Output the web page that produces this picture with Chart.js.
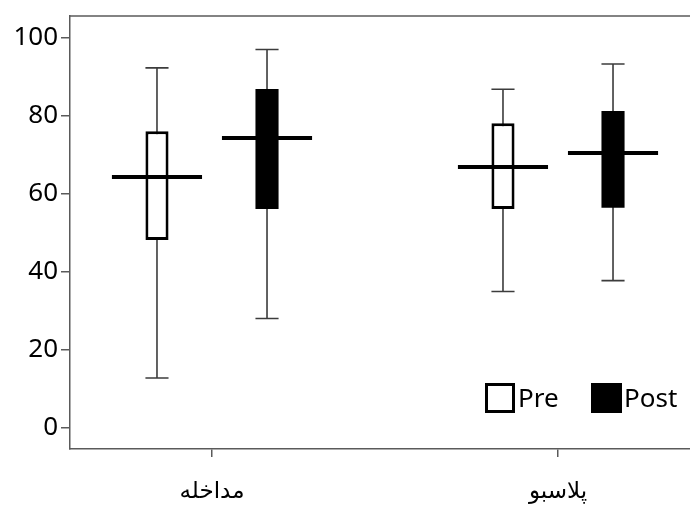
<!DOCTYPE html>
<html>
<head>
<meta charset="utf-8">
<script src="https://cdn.jsdelivr.net/npm/chart.js@4/dist/chart.umd.min.js"></script>
<style>
  html, body { margin: 0; padding: 0; background: #fff; }
  #wrap { width: 690px; height: 506px; }
</style>
</head>
<body>
<div id="wrap"><canvas id="boxChart" width="690" height="506"></canvas></div>
<script>
// --- data ---
const groups = ['مداخله', 'پلاسبو'];
const groupX = [1, 2];
const yTicks = [0, 20, 40, 60, 80, 100];

const preMin = [12.7, 34.9];
const preQ1  = [48.1, 56.1];
const preMed = [64.4, 66.9];
const preQ3  = [76.0, 78.1];
const preMax = [92.3, 86.8];

const postMin = [28.0, 37.7];
const postQ1  = [56.1, 56.4];
const postMed = [74.2, 70.4];
const postQ3  = [86.9, 81.2];
const postMax = [97.0, 93.3];

const stats = [
    { min: preMin, med: preMed, max: preMax },
    { min: postMin, med: postMed, max: postMax }
];

const axisGray = '#5a5a5a';

// whiskers under the boxes, medians on top, plus frame and legend
const boxExtras = {
    id: 'boxExtras',
    beforeDatasetsDraw(chart) {
        const ctx = chart.ctx;
        const y = chart.scales.y;
        ctx.save();
        ctx.strokeStyle = '#3c3c3c';
        ctx.lineWidth = 1.6;
        chart.data.datasets.forEach((ds, d) => {
            chart.getDatasetMeta(d).data.forEach((el, i) => {
                const half = el.width / 2;
                const yMin = y.getPixelForValue(stats[d].min[i]);
                const yMax = y.getPixelForValue(stats[d].max[i]);
                ctx.beginPath();
                ctx.moveTo(el.x, yMin); ctx.lineTo(el.x, yMax);
                ctx.moveTo(el.x - half, yMin); ctx.lineTo(el.x + half, yMin);
                ctx.moveTo(el.x - half, yMax); ctx.lineTo(el.x + half, yMax);
                ctx.stroke();
            });
        });
        ctx.restore();
    },
    afterDatasetsDraw(chart) {
        const ctx = chart.ctx;
        const y = chart.scales.y;
        ctx.save();
        ctx.strokeStyle = '#000';
        ctx.lineWidth = 4;
        chart.data.datasets.forEach((ds, d) => {
            chart.getDatasetMeta(d).data.forEach((el, i) => {
                const ym = Math.round(y.getPixelForValue(stats[d].med[i]));
                const half = el.width * 1.95;
                ctx.beginPath();
                ctx.moveTo(el.x - half, ym); ctx.lineTo(el.x + half, ym);
                ctx.stroke();
            });
        });
        ctx.restore();
    },
    afterDraw(chart) {
        const ctx = chart.ctx;
        const area = chart.chartArea;
        ctx.save();
        // top frame line
        ctx.strokeStyle = axisGray;
        ctx.lineWidth = 1.5;
        ctx.beginPath();
        ctx.moveTo(area.left, area.top); ctx.lineTo(area.right, area.top);
        ctx.stroke();

        // legend
        ctx.font = '26px "Noto Sans", sans-serif';
        ctx.textBaseline = 'middle';
        ctx.textAlign = 'left';
        ctx.fillStyle = '#fff';
        ctx.fillRect(485, 383, 30, 30);
        ctx.strokeStyle = '#000';
        ctx.lineWidth = 3;
        ctx.strokeRect(486.5, 384.5, 27, 27);
        ctx.fillStyle = '#000';
        ctx.fillText(chart.data.datasets[0].label, 518, 400);
        ctx.fillRect(591, 383, 31, 30);
        ctx.fillText(chart.data.datasets[1].label, 624, 400);
        ctx.restore();
    }
};

new Chart(document.getElementById('boxChart'), {
    type: 'bar',
    data: {
        datasets: [
            {
                label: 'Pre',
                data: groupX.map((x, i) => ({ x: x, y: [preQ1[i], preQ3[i]] })),
                backgroundColor: '#fff',
                borderColor: '#000',
                borderWidth: 3,
                borderSkipped: false,
                categoryPercentage: 0.636,
                barPercentage: 0.21
            },
            {
                label: 'Post',
                data: groupX.map((x, i) => ({ x: x, y: [postQ1[i], postQ3[i]] })),
                backgroundColor: '#000',
                borderColor: '#000',
                borderWidth: 0,
                categoryPercentage: 0.636,
                barPercentage: 0.21
            }
        ]
    },
    options: {
        responsive: false,
        animation: false,
        layout: { padding: { top: 14, left: 0, right: 0, bottom: 0 } },
        plugins: { legend: { display: false }, tooltip: { enabled: false } },
        scales: {
            x: {
                type: 'linear',
                offset: false,
                min: 0.5896,
                max: 2.3815,
                afterFit(scale) { scale.height = 57; },
                afterBuildTicks(scale) { scale.ticks = groupX.map(v => ({ value: v })); },
                ticks: {
                    callback: (v) => groups[groupX.indexOf(v)],
                    color: '#000',
                    font: { family: '"DejaVu Sans", sans-serif', size: 23 },
                    padding: 21,
                    maxRotation: 0
                },
                grid: { offset: false, drawOnChartArea: false, drawTicks: true, tickLength: 8, color: axisGray, lineWidth: 1.5 },
                border: { display: true, color: axisGray, width: 1.5 }
            },
            y: {
                min: -5.5,
                max: 105.6,
                afterFit(scale) { scale.width = 70; },
                afterBuildTicks(scale) { scale.ticks = yTicks.map(v => ({ value: v })); },
                ticks: {
                    color: '#000',
                    font: { family: '"Noto Sans", sans-serif', size: 26, lineHeight: 1 },
                    padding: 3
                },
                grid: { drawOnChartArea: false, drawTicks: true, tickLength: 9, color: axisGray, lineWidth: 1.5 },
                border: { display: true, color: axisGray, width: 1.5 }
            }
        }
    },
    plugins: [boxExtras]
});
</script>
</body>
</html>
